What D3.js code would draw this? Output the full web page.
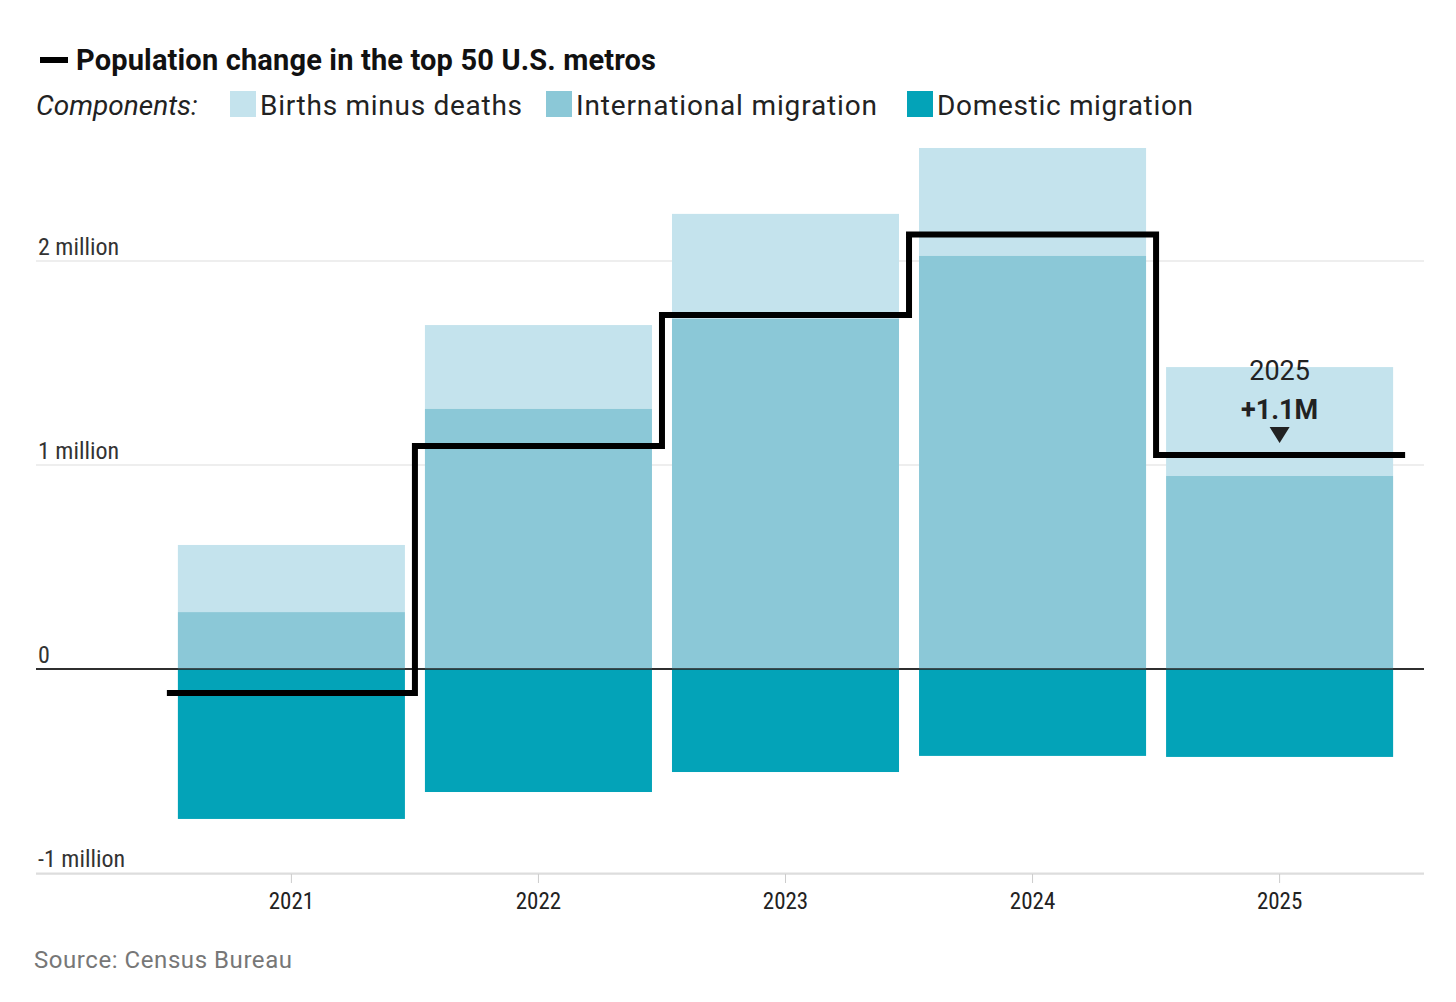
<!DOCTYPE html>
<html><head><meta charset="utf-8">
<script src="https://cdn.jsdelivr.net/npm/d3@7"></script>
<style>
body{margin:0;background:#fff;font-family:Roboto,"Noto Sans",sans-serif;}
</style></head>
<body><div id="wrapper"></div>
<script>
const years = ["2021","2022","2023","2024","2025"]
const births = [0.329, 0.411, 0.515, 0.529, 0.534]
const international = [0.279, 1.275, 1.716, 2.025, 0.946]
const domestic = [-0.735, -0.603, -0.505, -0.426, -0.431]
const netChange = [-0.118, 1.093, 1.735, 2.13, 1.049]
const yTicks = [-1, 0, 1, 2]
const yTickLabels = ["-1 million", "0", "1 million", "2 million"]

const colors = {births: "#c4e3ed", intl: "#8bc8d7", dom: "#03a3b8"}

const width = 1456, height = 1002
const svg = d3.select("#wrapper").append("svg").attr("width", width).attr("height", height)

const x = d3.scaleBand().domain(years).range([168, 1403]).paddingInner(0.081).paddingOuter(0.04)
const y = d3.scaleLinear().domain([-1, 2]).range([873, 261])

// gridlines + labels
yTicks.forEach((t, i) => {
  svg.append("line").attr("x1", 36).attr("x2", 1424).attr("y1", y(t)).attr("y2", y(t))
    .attr("stroke", t === 0 ? "#222" : "#ddd").attr("stroke-width", t === 0 ? 1.3 : 1.2)
  svg.append("text").attr("x", 38).attr("y", y(t) - 6).attr("font-size", 24)
    .attr("fill", "#333").style("font-stretch", "condensed").text(yTickLabels[i])
})

const data = years.map((yr, i) => ({yr, b: births[i], n: international[i], d: domestic[i], net: netChange[i]}))
const bw = x.bandwidth()

svg.selectAll(".b").data(data).join("rect")
  .attr("x", d => x(d.yr)).attr("width", bw)
  .attr("y", d => y(d.n + d.b)).attr("height", d => y(d.n) - y(d.n + d.b)).attr("fill", colors.births)
svg.selectAll(".n").data(data).join("rect")
  .attr("x", d => x(d.yr)).attr("width", bw)
  .attr("y", d => y(d.n)).attr("height", d => y(0) - y(d.n)).attr("fill", colors.intl)
svg.selectAll(".d").data(data).join("rect")
  .attr("x", d => x(d.yr)).attr("width", bw)
  .attr("y", y(0)).attr("height", d => y(d.d) - y(0)).attr("fill", colors.dom)

// redraw zero line on top
svg.append("line").attr("x1", 36).attr("x2", 1424).attr("y1", y(0)).attr("y2", y(0)).attr("stroke", "#222").attr("stroke-width", 1.3)

// step line
const gap = x.step() - bw
const pts = []
data.forEach(d => {
  pts.push([x(d.yr) - gap / 2, y(d.net)])
  pts.push([x(d.yr) + bw + gap / 2, y(d.net)])
})
pts[0][0] = x(years[0]) - 11
pts[pts.length - 1][0] = x(years[4]) + bw + 12
svg.append("path").attr("d", d3.line()(pts)).attr("fill", "none")
  .attr("stroke", "#000").attr("stroke-width", 6).attr("stroke-linejoin", "miter")

// x axis
svg.append("line").attr("x1", 36).attr("x2", 1424).attr("y1", 874).attr("y2", 874).attr("stroke", "#ccc")
const xAxis = svg.append("g").attr("transform", "translate(0,874)")
  .call(d3.axisBottom(x).tickSize(9).tickSizeOuter(0))
xAxis.select(".domain").remove()
xAxis.selectAll("line").attr("stroke", "#ccc")
xAxis.selectAll("text").attr("font-size", 23).attr("fill", "#222").attr("dy", "1.0em")
  .style("font-family", "Roboto").style("font-stretch", "condensed")

// annotation
const cx = x("2025") + bw / 2
svg.append("text").attr("x", cx).attr("y", 380).attr("text-anchor", "middle").attr("font-size", 27).attr("fill", "#222").text("2025")
svg.append("text").attr("x", cx).attr("y", 419).attr("text-anchor", "middle").attr("font-size", 27).attr("font-weight", "bold").attr("fill", "#222").text("+1.1M")
svg.append("path").attr("d", `M${cx - 10},427 L${cx + 10},427 L${cx},443 Z`).attr("fill", "#222")

// title
svg.append("rect").attr("x", 40).attr("y", 57).attr("width", 28).attr("height", 6).attr("fill", "#000")
svg.append("text").attr("x", 76).attr("y", 70).attr("font-size", 29).attr("font-weight", "bold").attr("fill", "#111")
  .attr("textLength", 580).text("Population change in the top 50 U.S. metros")

// legend
svg.append("text").attr("x", 36).attr("y", 115).attr("font-size", 28).attr("font-style", "italic").attr("fill", "#222").text("Components:")
const legend = [["Births minus deaths", colors.births, 230, 262], ["International migration", colors.intl, 546, 301], ["Domestic migration", colors.dom, 907, 256]]
legend.forEach(([label, c, lx, tl]) => {
  svg.append("rect").attr("x", lx).attr("y", 91).attr("width", 26).attr("height", 26).attr("fill", c)
  svg.append("text").attr("x", lx + 30).attr("y", 115).attr("font-size", 28).attr("fill", "#222")
    .attr("textLength", tl).text(label)
})

svg.append("text").attr("x", 34).attr("y", 968).attr("font-size", 24).attr("fill", "#777")
  .attr("textLength", 258).text("Source: Census Bureau")
</script></body></html>
